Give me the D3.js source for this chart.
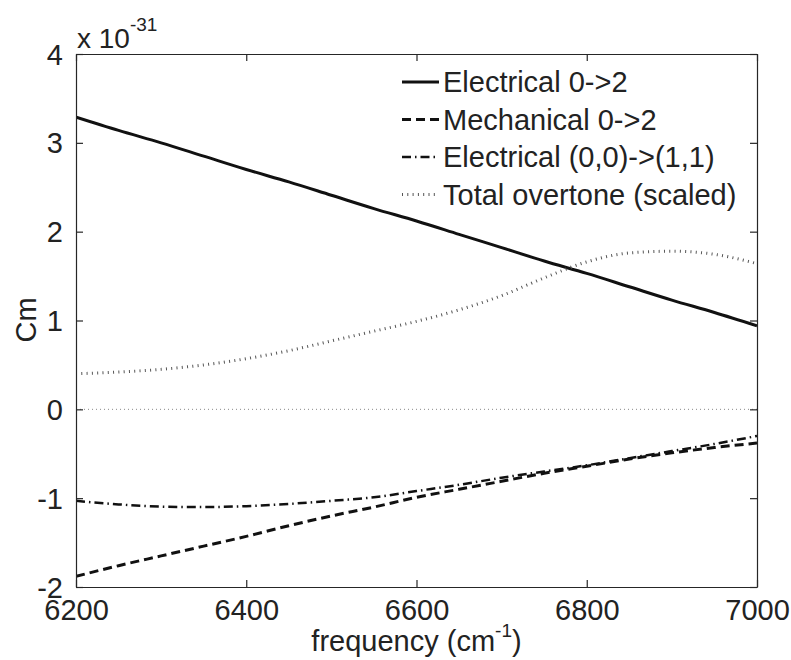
<!DOCTYPE html>
<html>
<head>
<meta charset="utf-8">
<script src="https://cdn.jsdelivr.net/npm/d3@7"></script>
<style>
  body { margin: 0; background: #fff; }
  text { font-family: "Liberation Sans", Arial, Helvetica, sans-serif; fill: #222; }
</style>
</head>
<body>
<div id="chart"></div>
<script>
// frequency grid (cm^-1)
var freq = [6200, 6250, 6300, 6350, 6400, 6450, 6500, 6550, 6600, 6650, 6700, 6750, 6800, 6850, 6900, 6950, 7000];

// values in units of 1e-31 Cm
var elec02 = [3.29, 3.14, 3.00, 2.85, 2.70, 2.56, 2.41, 2.26, 2.12, 1.97, 1.82, 1.67, 1.53, 1.38, 1.23, 1.09, 0.94];
var mech02 = [-1.88, -1.76, -1.65, -1.54, -1.43, -1.31, -1.20, -1.10, -0.99, -0.90, -0.81, -0.72, -0.64, -0.56, -0.49, -0.43, -0.38];
var elec0011 = [-1.03, -1.07, -1.095, -1.10, -1.09, -1.065, -1.03, -0.99, -0.92, -0.85, -0.77, -0.70, -0.63, -0.55, -0.47, -0.39, -0.30];
var overtone = [0.40, 0.42, 0.45, 0.50, 0.57, 0.66, 0.77, 0.88, 0.99, 1.12, 1.28, 1.48, 1.66, 1.76, 1.78, 1.745, 1.64];

var xTicks = [6200, 6400, 6600, 6800, 7000];
var yTicks = [-2, -1, 0, 1, 2, 3, 4];
var legendNames = ["Electrical 0->2", "Mechanical 0->2", "Electrical (0,0)->(1,1)", "Total overtone (scaled)"];

var W = 791, H = 660;
var margin = {top: 54, right: 34, bottom: 73, left: 76};
var width = W - margin.left - margin.right,
    height = H - margin.top - margin.bottom;

var svg = d3.select("#chart").append("svg")
    .attr("width", W)
    .attr("height", H);

var g = svg.append("g")
    .attr("transform", "translate(" + margin.left + "," + margin.top + ")");

var x = d3.scaleLinear().domain([6200, 7000]).range([0, width]);
var y = d3.scaleLinear().domain([-2, 4]).range([height, 0]);

g.append("clipPath").attr("id", "clip")
  .append("rect").attr("width", width).attr("height", height);

// series styles
var series = [
  {vals: elec02,   stroke: "#111", sw: 3,   dash: null},
  {vals: mech02,   stroke: "#111", sw: 3,   dash: "9,5"},
  {vals: elec0011, stroke: "#111", sw: 2.5, dash: "9,4,1.5,4"},
  {vals: overtone, stroke: "#555", sw: 3,   dash: "1,4.3"}
];

var line = d3.line()
    .x(function(d) { return x(d[0]); })
    .y(function(d) { return y(d[1]); })
    .curve(d3.curveMonotoneX);

var plot = g.append("g").attr("clip-path", "url(#clip)");

// zero line (dotted)
plot.append("line")
    .attr("x1", x(6200)).attr("x2", x(7000))
    .attr("y1", y(0)).attr("y2", y(0))
    .attr("stroke", "#888").attr("stroke-width", 1)
    .attr("stroke-dasharray", "1,3");

series.forEach(function(s) {
  plot.append("path")
      .datum(freq.map(function(f, i) { return [f, s.vals[i]]; }))
      .attr("fill", "none")
      .attr("stroke", s.stroke)
      .attr("stroke-width", s.sw)
      .attr("stroke-dasharray", s.dash)
      .attr("d", line);
});

// axes: box with inward ticks on all four sides (matlab style)
var tl = 7;
var plain = function(d) { return String(d); }; // hyphen minus like matlab
var xAxisB = d3.axisBottom(x).tickValues(xTicks).tickFormat(plain).tickSizeInner(-tl).tickSizeOuter(0).tickPadding(12);
var xAxisT = d3.axisTop(x).tickValues(xTicks).tickSizeInner(-tl).tickSizeOuter(0).tickFormat("");
var yAxisL = d3.axisLeft(y).tickValues(yTicks).tickFormat(plain).tickSizeInner(-tl).tickSizeOuter(0).tickPadding(13);
var yAxisR = d3.axisRight(y).tickValues(yTicks).tickSizeInner(-tl).tickSizeOuter(0).tickFormat("");

function styleAxis(sel) {
  sel.selectAll("path, line").attr("stroke", "#262626").attr("stroke-width", 1.2);
  sel.selectAll("text").attr("font-size", 29).attr("fill", "#222")
     .style("font-family", "'Liberation Sans', Arial, sans-serif");
}

g.append("g").attr("transform", "translate(0," + height + ")").call(xAxisB).call(styleAxis)
  .selectAll("text").attr("dy", "0.72em");
g.append("g").call(xAxisT).call(styleAxis);
g.append("g").call(yAxisL).call(styleAxis)
  .selectAll("text").attr("dy", "0.35em");
g.append("g").attr("transform", "translate(" + width + ",0)").call(yAxisR).call(styleAxis);

// exponent label
var expo = svg.append("text")
    .attr("x", 77).attr("y", 48)
    .attr("font-size", 28);
expo.append("tspan").text("x 10");
expo.append("tspan").attr("font-size", 19).attr("dy", -17).text("-31");

// axis titles
svg.append("text")
    .attr("transform", "translate(" + 36 + "," + 320 + ") rotate(-90)")
    .attr("text-anchor", "middle")
    .attr("font-size", 29)
    .text("Cm");

var xl = svg.append("text")
    .attr("x", margin.left + width / 2)
    .attr("y", 651)
    .attr("text-anchor", "middle")
    .attr("font-size", 29);
xl.append("tspan").text("frequency (cm");
xl.append("tspan").attr("font-size", 19).attr("dy", -14).text("-1");
xl.append("tspan").attr("dy", 14).text(")");

// legend
var leg = svg.append("g").attr("transform", "translate(402,92)");
legendNames.forEach(function(name, i) {
  var s = series[i];
  var row = leg.append("g").attr("transform", "translate(0," + (i * 37.5) + ")");
  row.append("line")
      .attr("x1", 0).attr("x2", 37)
      .attr("y1", -10).attr("y2", -10)
      .attr("stroke", s.stroke)
      .attr("stroke-width", s.sw)
      .attr("stroke-dasharray", s.dash);
  row.append("text")
      .attr("x", 41).attr("y", 0)
      .attr("font-size", 29)
      .text(name);
});
</script>
</body>
</html>
